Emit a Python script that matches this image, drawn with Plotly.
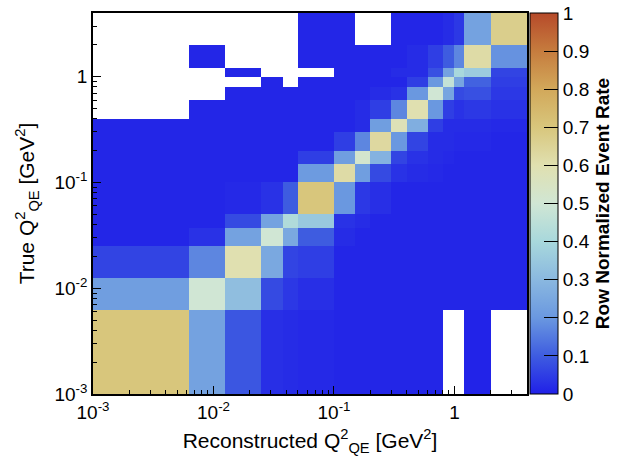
import plotly.graph_objects as go

# Bin edges (GeV^2) shared by reconstructed (x) and true (y) Q2_QE
bin_edges = [0.0, 0.00625, 0.0125, 0.025, 0.0375, 0.05, 0.1, 0.15, 0.2,
             0.3, 0.4, 0.6, 0.8, 1.0, 1.2, 2.0, 4.0]
axis_low = 1e-3

W = None  # empty cell
# Row-normalized rates; rows = true bins (bottom to top), columns = reco bins
row_00 = [0.70, 0.23, 0.09, 0.025, 0.02, 0.015, 0.01, 0.01, 0.01, 0.01, 0.01, 0.01, W, W, 0.005, W]
row_01 = [0.22, 0.50, 0.32, 0.07, 0.04, 0.025, 0.01, 0.01, 0.01, 0.01, 0.01, 0.01, 0.01, 0.01, 0.01, 0.01]
row_02 = [0.06, 0.17, 0.60, 0.25, 0.06, 0.05, 0.01, 0.01, 0.01, 0.01, 0.01, 0.01, 0.01, 0.01, 0.01, 0.01]
row_03 = [0.01, 0.03, 0.23, 0.50, 0.25, 0.10, 0.02, 0.01, 0.01, 0.01, 0.01, 0.01, 0.01, 0.01, 0.01, 0.01]
row_04 = [0.01, 0.01, 0.07, 0.23, 0.42, 0.35, 0.03, 0.02, 0.01, 0.01, 0.01, 0.01, 0.01, 0.01, 0.01, 0.01]
row_05 = [0.01, 0.01, 0.015, 0.03, 0.10, 0.70, 0.20, 0.04, 0.025, 0.01, 0.01, 0.01, 0.01, 0.01, 0.01, 0.01]
row_06 = [0.01, 0.01, 0.01, 0.01, 0.01, 0.21, 0.62, 0.22, 0.07, 0.03, 0.02, 0.015, 0.01, 0.01, 0.01, 0.01]
row_07 = [0.01, 0.01, 0.01, 0.01, 0.01, 0.05, 0.22, 0.52, 0.28, 0.06, 0.03, 0.02, 0.015, 0.01, 0.01, 0.01]
row_08 = [0.01, 0.01, 0.01, 0.01, 0.01, 0.01, 0.05, 0.17, 0.63, 0.20, 0.06, 0.02, 0.02, 0.015, 0.015, 0.01]
row_09 = [0.01, 0.01, 0.01, 0.01, 0.01, 0.01, 0.01, 0.02, 0.22, 0.58, 0.27, 0.05, 0.02, 0.02, 0.02, 0.015]
row_10 = [W, 0.01, 0.01, 0.01, 0.01, 0.01, 0.01, 0.02, 0.05, 0.17, 0.60, 0.20, 0.05, 0.03, 0.04, 0.03]
row_11 = [W, W, 0.01, 0.01, 0.01, 0.01, 0.01, 0.01, 0.02, 0.03, 0.20, 0.50, 0.24, 0.07, 0.08, 0.04]
row_12 = [W, W, W, 0.01, W, 0.01, 0.01, 0.01, 0.01, 0.01, 0.05, 0.20, 0.47, 0.24, 0.11, 0.05]
row_13 = [W, W, 0.01, W, W, W, 0.01, 0.01, 0.01, 0.02, 0.02, 0.08, 0.23, 0.40, 0.36, 0.06]
row_14 = [W, 0.01, W, W, W, 0.01, 0.01, 0.01, 0.01, 0.01, 0.02, 0.05, 0.10, 0.17, 0.62, 0.19]
row_15 = [W, W, W, W, W, 0.01, 0.01, W, W, 0.01, 0.01, 0.01, 0.02, 0.04, 0.23, 0.67]

z_rows = [row_00, row_01, row_02, row_03, row_04, row_05, row_06, row_07,
          row_08, row_09, row_10, row_11, row_12, row_13, row_14, row_15]

major_vals = [1e-3, 1e-2, 1e-1, 1]
major_text = ["10<sup>-3</sup>", "10<sup>-2</sup>", "10<sup>-1</sup>", "1"]
minor_vals = [m * d for d in (1e-3, 1e-2, 1e-1, 1) for m in range(2, 10) if m * d <= 4.0]

cbar_vals = [0, 0.1, 0.2, 0.3, 0.4, 0.5, 0.6, 0.7, 0.8, 0.9, 1]
cbar_text = ["0", "0.1", "0.2", "0.3", "0.4", "0.5", "0.6", "0.7", "0.8", "0.9", "1"]

colorscale = [
    [0.0, "#2020e8"], [0.1, "#3e5ce0"], [0.2, "#6a98e0"], [0.3, "#8ab8e0"],
    [0.4, "#a8d8dc"], [0.5, "#d0e6d4"], [0.6, "#e0e0b0"], [0.7, "#d8c67c"],
    [0.8, "#d2a85a"], [0.9, "#c67c3e"], [1.0, "#b64a2a"],
]

edges = [max(e, axis_low) for e in bin_edges]

font_family = "Liberation Sans, Arial, sans-serif"

fig = go.Figure(go.Heatmap(
    x=edges, y=edges, z=z_rows,
    zmin=0, zmax=1, colorscale=colorscale,
    hoverongaps=False,
    colorbar=dict(
        x=(530 - 93) / 434, xanchor="left", xpad=0,
        y=0.5, yanchor="middle", len=1, lenmode="fraction", ypad=0,
        thickness=28, outlinewidth=1, outlinecolor="black",
        tickmode="array", tickvals=cbar_vals, ticktext=cbar_text,
        ticks="inside", ticklen=14, tickcolor="black",
        ticklabeloverflow="allow",
        tickfont=dict(size=19, color="black", family=font_family),
        title=dict(text="<b>Row Normalized Event Rate</b>", side="right",
                   font=dict(size=19, color="black", family=font_family)),
    ),
))

axis_common = dict(
    type="log", range=[-3, 0.60206], automargin=False,
    tickmode="array", tickvals=major_vals, ticktext=major_text,
    ticks="inside", ticklen=8, tickwidth=1, tickcolor="black",
    minor=dict(tickmode="array", tickvals=minor_vals, ticks="inside",
               ticklen=4, tickcolor="black", showgrid=False),
    showline=True, linecolor="black", linewidth=1.5, mirror=True,
    showgrid=False, zeroline=False,
    tickfont=dict(size=19, color="black", family=font_family),
)

fig.update_layout(
    width=639, height=465,
    margin=dict(l=93, r=112, t=13, b=71, autoexpand=False),
    paper_bgcolor="white", plot_bgcolor="white",
    font=dict(family=font_family, color="black"),
    xaxis=dict(**axis_common,
               title=dict(text="Reconstructed Q<sup>2</sup><sub>QE</sub> [GeV<sup>2</sup>]",
                          font=dict(size=21, color="black"), standoff=12)),
    yaxis=dict(**axis_common,
               title=dict(text="True Q<sup>2</sup><sub>QE</sub> [GeV<sup>2</sup>]",
                          font=dict(size=21, color="black"), standoff=14)),
)

# remove the default page margin so the figure sits at the window origin
fig.write_html("out.html",
               config={"displayModeBar": False},
               post_script="document.body.style.margin='0';document.body.style.overflow='hidden';")
